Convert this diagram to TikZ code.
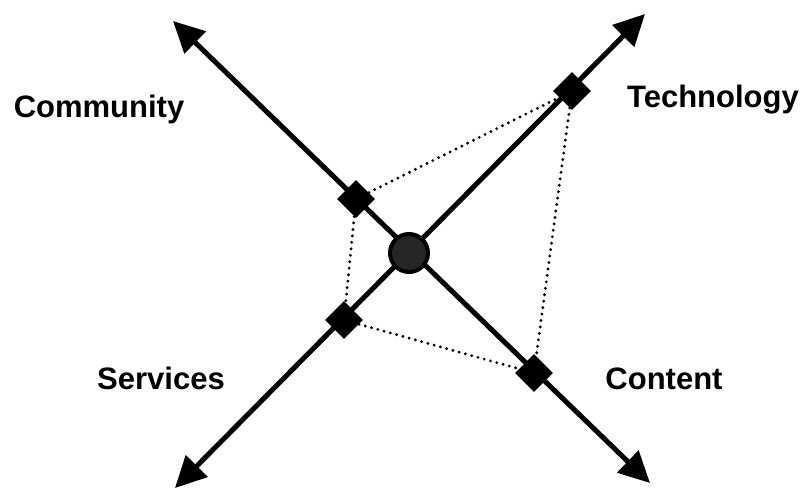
\documentclass[tikz,border=0pt]{standalone}
\usepackage{fontspec}
\setmainfont{Liberation Sans}
\usetikzlibrary{arrows.meta,shapes.geometric}
\begin{document}
\begin{tikzpicture}[x=1pt,y=-1pt,
  axis/.style={line width=5pt,{Triangle[length=31pt,width=30pt]}-{Triangle[length=31pt,width=30pt]}},
  marker/.style={diamond,fill=black,inner sep=0pt,minimum size=38pt},
  hub/.style={circle,draw=black,line width=4pt,fill=black!85,inner sep=0pt,minimum size=38pt},
  link/.style={line width=3.2pt,line cap=round,dash pattern=on 0pt off 6.5pt},
  lbl/.style={font=\fontsize{31}{36}\selectfont\bfseries,anchor=base,inner sep=0pt}]
\useasboundingbox (0,0) rectangle (805,490);
\coordinate (ul) at (173,21);
\coordinate (lr) at (650,483);
\coordinate (ll) at (175,488);
\coordinate (ur) at (645,14);
\draw[axis] (ul) -- (lr);
\draw[axis] (ll) -- (ur);
\node[hub] (c) at (409,253) {};
\node[marker] (com) at (356,199) {};
\node[marker] (tec) at (572,91) {};
\node[marker] (ser) at (344,320) {};
\node[marker] (con) at (534,373) {};
\draw[link] (com) -- (tec);
\draw[link] (com) -- (ser);
\draw[link] (ser) -- (con);
\draw[link] (tec) -- (con);
\node[lbl] (tcom) at (99,117) {Community};
\node[lbl] (ttec) at (713,107) {Technology};
\node[lbl] (tser) at (161,389) {Services};
\node[lbl] (tcon) at (664,389) {Content};
\end{tikzpicture}
\end{document}
